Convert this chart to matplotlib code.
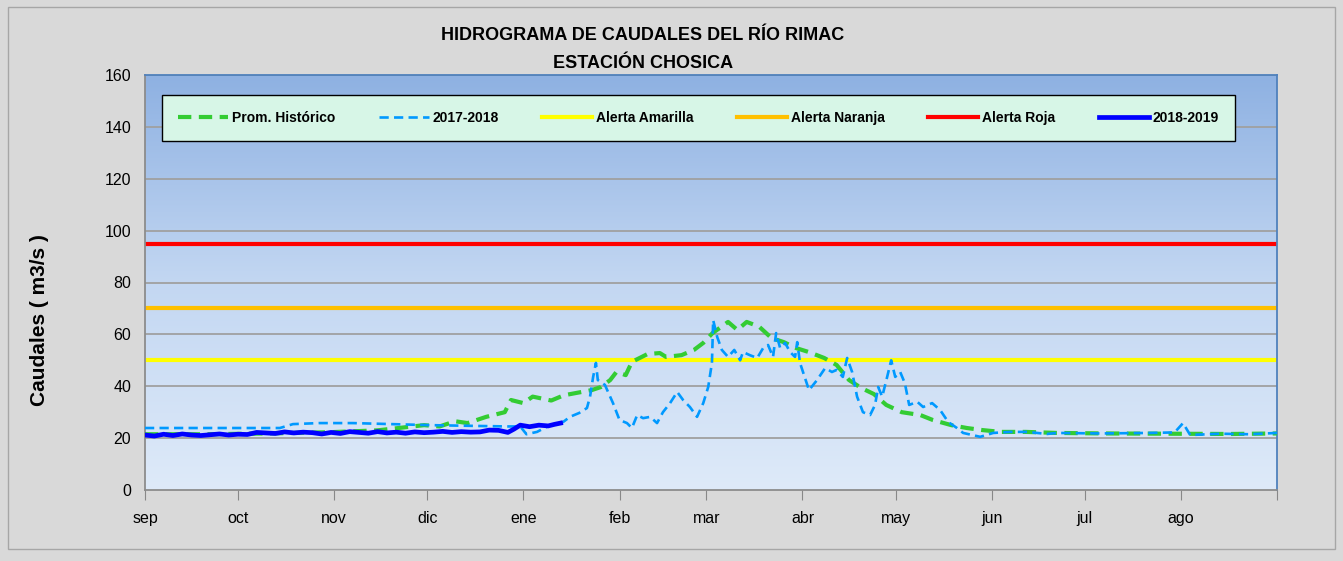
import numpy as np
import matplotlib
matplotlib.use('Agg')
import matplotlib.pyplot as plt
from matplotlib.colors import LinearSegmentedColormap
from matplotlib.patches import Rectangle

plt.rcParams['font.family'] = ['Liberation Sans', 'DejaVu Sans']

# meses (año hidrológico sep-ago)
meses = ['sep', 'oct', 'nov', 'dic', 'ene', 'feb', 'mar', 'abr', 'may', 'jun', 'jul', 'ago']
dias_mes = [30, 31, 30, 31, 31, 28, 31, 30, 31, 30, 31, 31]

# umbrales de alerta (m3/s)
alerta_amarilla = 50
alerta_naranja = 70
alerta_roja = 95

# promedio histórico: día desde 1 sep, caudal
hist_dia = [0, 20, 40, 60, 75, 90, 95, 100, 104, 110, 116, 118, 122, 125, 131, 135, 139, 144,
            147, 150, 152, 155, 157, 162, 166, 168, 173, 177, 180, 183, 188, 191, 194, 198,
            202, 206, 210, 214, 219, 223, 227, 231, 235, 239, 244, 250, 254, 260, 265, 270,
            276, 284, 294, 310, 330, 350, 365]
hist_q = [21.5, 21.5, 21.8, 22.3, 23.0, 25.0, 24.5, 26.5, 25.8, 28.2, 30.0, 34.7, 33.5, 36.0,
          34.5, 36.5, 37.4, 38.5, 39.7, 42.4, 45.5, 44.3, 49.4, 52.4, 52.8, 51.3, 52.0, 54.0,
          56.7, 60.5, 64.8, 61.7, 64.8, 63.0, 58.6, 57.0, 54.7, 53.2, 50.9, 48.2, 42.4, 39.3,
          37.0, 32.8, 30.0, 28.9, 27.0, 25.0, 23.9, 23.1, 22.4, 22.4, 22.0, 21.8, 21.7, 21.6, 21.8]

# 2017-2018
q17_dia = [0, 43.5, 47.7, 56, 67, 92, 117, 121, 123, 126.4, 130.6, 134.8, 137, 140, 142.5,
           143.5, 144.5, 145.4, 146, 148.3, 150.9, 153, 155.4, 157, 158.7, 160.6, 162.9, 165.1,
           167, 169.3, 171.6, 173.5, 175.7, 178, 180, 181.6, 182.8, 183.2, 184.5, 186, 188,
           190, 191.9, 192.8, 195, 197.4, 199.3, 200.9, 202.5, 203.5, 204.8, 206.4, 208,
           209.6, 210.3, 211.2, 212.8, 214.1, 216.7, 219.3, 221.5, 223, 225, 226.4, 228,
           229.6, 231.5, 233.8, 235.4, 236.4, 237.7, 239.3, 240.6, 241.9, 243.5, 245, 246.4,
           249, 250.9, 253.8, 256.4, 259, 261.8, 263.8, 269.3, 273.5, 279, 284.4, 290.9, 294,
           308, 324, 332, 334.7, 337, 346.7, 356, 365]
q17 = [23.9, 23.9, 25.4, 25.8, 25.8, 25.0, 24.5, 24.5, 21.5, 22.4, 25.0, 26.2, 28.2, 29.7, 31.6,
       36.0, 43.6, 49.0, 42.4, 40.5, 33.5, 27.0, 25.8, 23.9, 28.9, 27.7, 28.2, 25.8,
       30.0, 33.5, 37.8, 34.7, 32.0, 28.2, 33.5, 39.7, 49.0, 65.5, 59.0, 54.0, 51.3,
       54.0, 50.0, 53.2, 52.0, 50.9, 54.7, 55.9, 51.3, 60.5, 54.7, 56.7, 53.2,
       51.3, 57.0, 49.0, 43.2, 38.5, 42.4, 47.0, 45.5, 46.3, 43.6, 50.9, 45.5,
       36.0, 30.0, 28.9, 32.8, 39.7, 36.0, 43.6, 50.0, 43.6, 45.5, 41.2, 32.8,
       34.0, 32.0, 33.5, 30.8, 26.2, 23.9, 22.0, 20.5, 22.0, 22.4, 22.4, 21.6, 22.0,
       21.8, 22.0, 22.2, 25.8, 21.2, 21.7, 21.5, 22.0]

# 2018-2019
q18_dia = [0, 3, 6, 9, 12, 15, 18, 21, 24, 27, 30, 33, 36, 39, 42, 45, 48, 51, 54, 57, 60, 63,
           66, 69, 72, 75, 78, 81, 84, 87, 90, 93, 96, 99, 102, 105, 108, 111, 114, 117, 119,
           121, 124, 127, 130, 132, 134]
q18 = [21.2, 20.8, 21.5, 21.0, 21.6, 21.2, 21.0, 21.3, 21.6, 21.2, 21.5, 21.4, 22.2, 22.0, 21.8,
       22.4, 22.0, 22.3, 22.1, 21.6, 22.2, 21.8, 22.5, 22.2, 21.9, 22.5, 22.0, 22.3, 21.9,
       22.4, 22.1, 22.3, 22.6, 22.2, 22.5, 22.3, 22.4, 23.1, 23.0, 22.2, 23.5, 25.0, 24.4,
       25.0, 24.7, 25.3, 25.8]

fig = plt.figure(figsize=(13.43, 5.61), dpi=100, facecolor='#D9D9D9')
fig.patches.append(Rectangle((0.006, 0.022), 0.988, 0.966, transform=fig.transFigure,
                             facecolor='none', edgecolor='#A6A6A6', linewidth=1))
ax = fig.add_axes([145 / 1343, 1 - 490 / 561, 1132 / 1343, 415 / 561])

# fondo degradado
cmap = LinearSegmentedColormap.from_list('fondo', ['#DEEAF9', '#C3D7F2', '#8EB1E2'])
grad = np.linspace(0, 1, 256).reshape(-1, 1)
ax.imshow(grad, extent=[0, 365, 0, 160], origin='lower', aspect='auto', cmap=cmap, zorder=0)

for yv in range(20, 161, 20):
    ax.axhline(yv, color='#A0A0A0', linewidth=1.3, zorder=1)

total = sum(dias_mes)
ax.plot(hist_dia, hist_q, color='#33CC33', linewidth=3, dashes=(3.2, 1.8), label='Prom. Histórico', zorder=3)
ax.plot(q17_dia, q17, color='#0099FF', linewidth=1.9, dashes=(3.5, 2), label='2017-2018', zorder=4)
ax.plot([0, total], [alerta_amarilla] * 2, color='#FFFF00', linewidth=3, label='Alerta Amarilla', zorder=2)
ax.plot([0, total], [alerta_naranja] * 2, color='#FFC000', linewidth=3, label='Alerta Naranja', zorder=2)
ax.plot([0, total], [alerta_roja] * 2, color='#FF0000', linewidth=3, label='Alerta Roja', zorder=2)
ax.plot(q18_dia, q18, color='#0000FF', linewidth=3.4, label='2018-2019', zorder=5)

ax.set_xlim(0, total)
ax.set_ylim(0, 160)
inicio = np.concatenate([[0], np.cumsum(dias_mes)])
ax.set_xticks(inicio)
ax.set_xticklabels(meses + [''])
ax.set_yticks(range(0, 161, 20))
ax.tick_params(axis='x', length=7, color='#888888', pad=8, labelsize=11.5)
ax.tick_params(axis='y', length=0, pad=10, labelsize=11.5)
for s in ['left', 'bottom']:
    ax.spines[s].set_color('#8C8C8C')
    ax.spines[s].set_linewidth(1.3)
for s in ['top', 'right']:
    ax.spines[s].set_color('#4F81BD')
    ax.spines[s].set_linewidth(1.3)

leg = ax.legend(loc='center', ncol=6, mode='expand', bbox_to_anchor=(0.015, 0.843, 0.948, 0.109),
                fancybox=False, framealpha=1, facecolor='#D7F6E7', edgecolor='#000000',
                prop={'weight': 'bold', 'size': 10}, handlelength=3.6, handletextpad=0.3,
                borderaxespad=0, borderpad=1.15)
leg.get_frame().set_linewidth(1.0)
leg.set_zorder(10)

fig.text(643 / 1343, 1 - 36 / 561, 'HIDROGRAMA DE CAUDALES DEL RÍO RIMAC', ha='center', va='center',
         fontsize=13, fontweight='bold')
fig.text(643 / 1343, 1 - 63 / 561, 'ESTACIÓN CHOSICA', ha='center', va='center',
         fontsize=13, fontweight='bold')
fig.text(40 / 1343, 1 - 320 / 561, 'Caudales ( m3/s )', rotation=90, ha='center', va='center',
         fontsize=15, fontweight='bold')

plt.savefig('out.png', dpi=100, facecolor=fig.get_facecolor())
